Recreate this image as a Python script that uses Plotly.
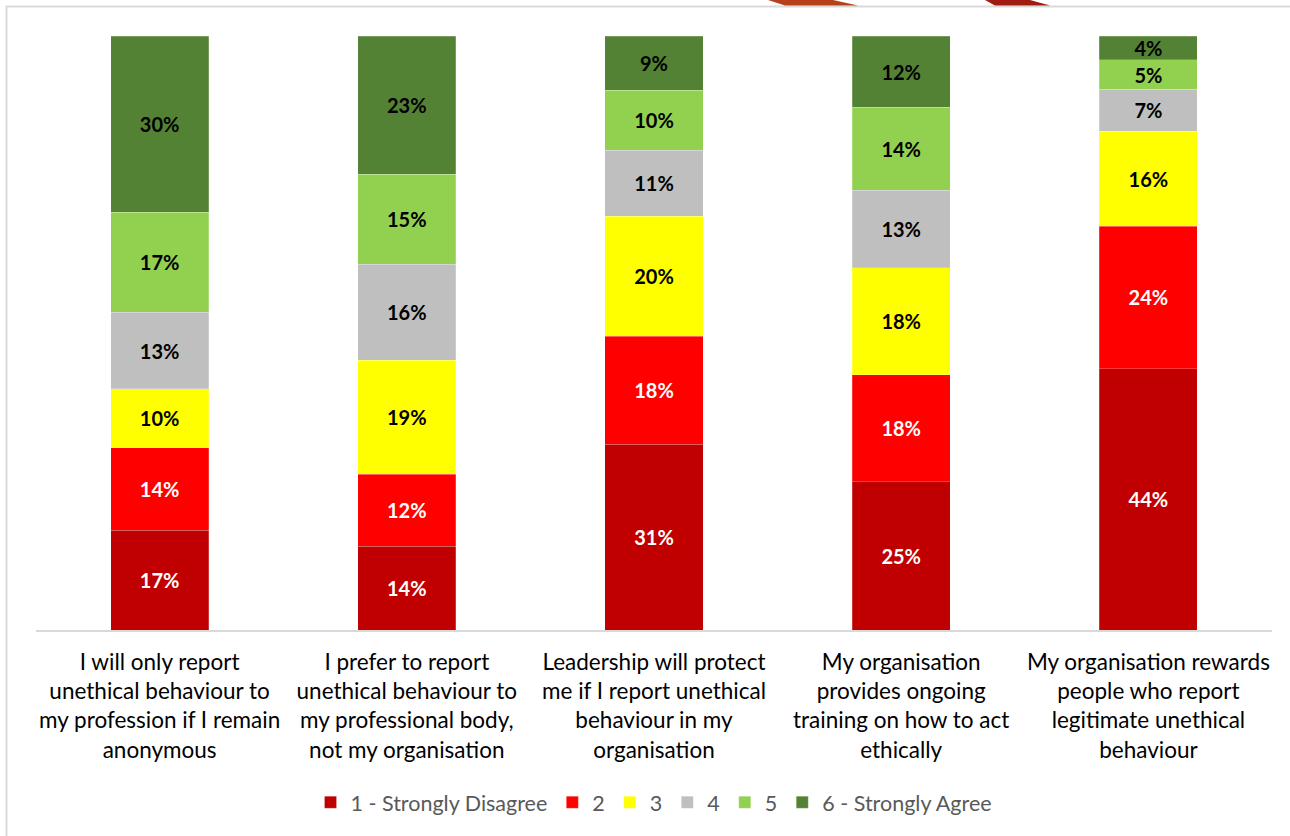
import plotly.graph_objects as go

statements = [
    "I will only report<br>unethical behaviour to<br>my profession if I remain<br>anonymous",
    "I prefer to report<br>unethical behaviour to<br>my professional body,<br>not my organisation",
    "Leadership will protect<br>me if I report unethical<br>behaviour in my<br>organisation",
    "My organisation<br>provides ongoing<br>training on how to act<br>ethically",
    "My organisation rewards<br>people who report<br>legitimate unethical<br>behaviour",
]

strongly_disagree = [17, 14, 31, 25, 44]
level_2 = [14, 12, 18, 18, 24]
level_3 = [10, 19, 20, 18, 16]
level_4 = [13, 16, 11, 13, 7]
level_5 = [17, 15, 10, 14, 5]
strongly_agree = [30, 23, 9, 12, 4]

series = [
    ("1 - Strongly Disagree", strongly_disagree, "#c00000", "white"),
    ("2", level_2, "#ff0000", "white"),
    ("3", level_3, "#ffff00", "black"),
    ("4", level_4, "#bfbfbf", "black"),
    ("5", level_5, "#92d050", "black"),
    ("6 - Strongly Agree", strongly_agree, "#548235", "black"),
]

FONT = "Lato"

fig = go.Figure()
for name, vals, color, txtcolor in series:
    fig.add_trace(
        go.Bar(
            x=statements,
            y=vals,
            name=name,
            marker=dict(color=color, line=dict(color="rgba(255,255,255,0.35)", width=0.6)),
            text=[f"{v}%" for v in vals],
            textposition="inside",
            insidetextanchor="middle",
            textangle=0,
            constraintext="none",
            insidetextfont=dict(family=FONT, size=20, color=txtcolor, weight="bold"),
        )
    )


def px_x(x):
    return (x - 36) / 1236


def px_y(y):
    return (630 - y) / 594


shapes = [
    # chart border (top and left edges visible)
    dict(type="line", xref="paper", yref="paper", x0=px_x(6), x1=px_x(1290), y0=px_y(6.5), y1=px_y(6.5),
         line=dict(color="#d9d9d9", width=2)),
    dict(type="line", xref="paper", yref="paper", x0=px_x(6.5), x1=px_x(6.5), y0=px_y(6), y1=px_y(836),
         line=dict(color="#d9d9d9", width=2)),
    # decorative slide shapes peeking in at the top
    dict(type="path", xref="paper", yref="paper",
         path=f"M {px_x(768)},{px_y(0)} L {px_x(833)},{px_y(0)} L {px_x(858)},{px_y(5.5)} L {px_x(785)},{px_y(5.5)} Z",
         fillcolor="#b5401a", line=dict(width=0)),
    dict(type="path", xref="paper", yref="paper",
         path=f"M {px_x(985)},{px_y(0)} L {px_x(1030)},{px_y(0)} L {px_x(1050)},{px_y(5.5)} L {px_x(995)},{px_y(5.5)} Z",
         fillcolor="#a01c10", line=dict(width=0)),
]

fig.update_layout(
    barmode="stack",
    barnorm="percent",
    bargap=0.603,
    width=1290,
    height=836,
    margin=dict(l=36, r=18, t=36, b=206),
    paper_bgcolor="white",
    plot_bgcolor="white",
    font=dict(family=FONT, size=22, color="#000000"),
    showlegend=True,
    legend=dict(
        orientation="h",
        x=0.5,
        xanchor="center",
        y=-0.290,
        yanchor="middle",
        font=dict(family=FONT, size=21.5, color="#595959"),
        itemwidth=30,
        traceorder="normal",
    ),
    xaxis=dict(
        showline=True,
        linecolor="#d9d9d9",
        linewidth=1.5,
        ticks="",
        ticklabelstandoff=11,
        tickfont=dict(family=FONT, size=22.5, color="#000000"),
        showgrid=False,
    ),
    yaxis=dict(
        range=[0, 100],
        visible=False,
        showgrid=False,
    ),
    shapes=shapes,
)

fig.write_html(
    "out.html",
    config={"displayModeBar": False},
    post_script="document.body.style.margin='0';",
)
